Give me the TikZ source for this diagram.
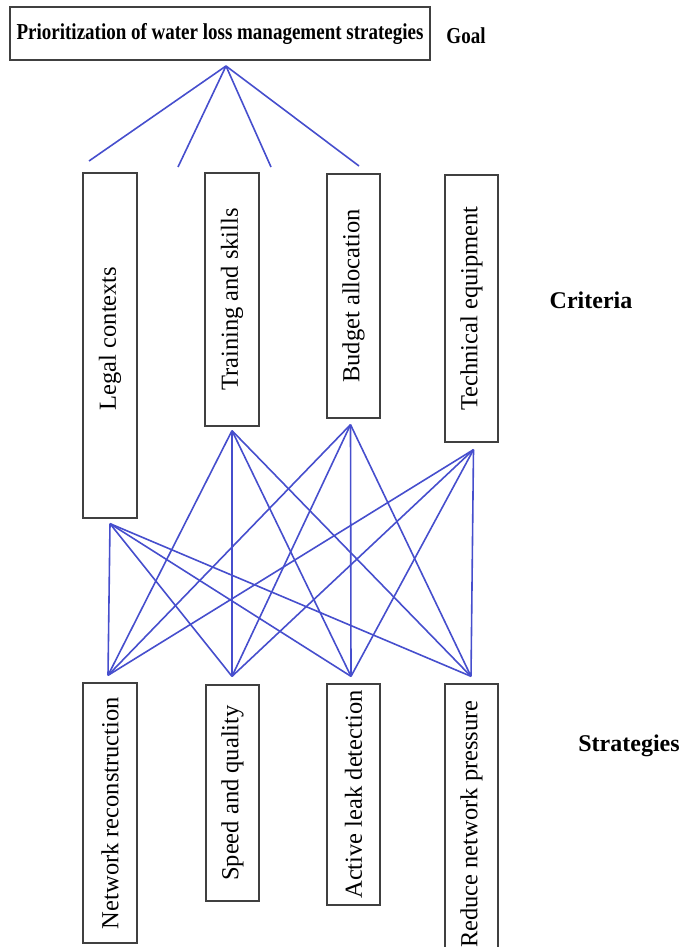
\documentclass[tikz,border=0pt]{standalone}
\usepackage{fontspec}
\setmainfont{Liberation Serif}
\usetikzlibrary{positioning,calc}
\definecolor{linkcolor}{RGB}{70,78,205}

\begin{document}
\begin{tikzpicture} [
			x=1pt,y=-1pt,
			box/.style={draw=black!75,line width=1.3pt,inner sep=0pt,font=\fontsize{24.5}{28}\selectfont},
			level/.style={font=\bfseries\fontsize{24}{28}\selectfont},
			link/.style={draw=linkcolor,line width=1.6pt},
%			scale=0.8,
		]
		\useasboundingbox (0,0) rectangle (681,947);
		
		% goal
		\node[box,minimum width=420,minimum height=53,font=\bfseries\fontsize{19}{23}\selectfont] (goal) at (220,33.5) {\scalebox{1}[1.2]{Prioritization of water loss management strategies}};
		\node[font=\bfseries\fontsize{19}{23}\selectfont] (goallabel) at (466,36) {\scalebox{1}[1.2]{Goal}};
		
		% criteria
		\node[box,minimum width=54,minimum height=345] (legal) at (110,345.5) {\rotatebox{90}{\hspace*{14pt}Legal contexts}};
		\node[box,minimum width=54,minimum height=253] (training) at (232,299.5) {\rotatebox{90}{Training and skills}};
		\node[box,minimum width=53,minimum height=244] (budget) at (353.5,296) {\rotatebox{90}{Budget allocation}};
		\node[box,minimum width=53,minimum height=267] (technical) at (471.5,308.5) {\rotatebox{90}{Technical equipment}};
		\node[level] (criterialabel) at (591,300) {Criteria};
		
		% strategies
		\node[box,minimum width=54,minimum height=260] (network) at (110,813) {\rotatebox{90}{Network reconstruction}};
		\node[box,minimum width=53,minimum height=216] (speed) at (232.5,793) {\rotatebox{90}{Speed and quality}};
		\node[box,minimum width=53,minimum height=221] (active) at (353.5,794.5) {\rotatebox{90}{Active leak detection}};
		\node[box,minimum width=53,minimum height=280] (reduce) at (471.5,824) {\rotatebox{90}{Reduce network pressure}};
		\node[level] (strategieslabel) at (629,746) {Strategies};
		
		\coordinate (apex) at (226,66);
		\coordinate (legal-in) at (89,161);
		\coordinate (training-in) at (178,167);
		\coordinate (budget-in) at (271,167);
		\coordinate (technical-in) at (359,166);
		
		\coordinate (legal-out) at ([yshift=-5pt]legal.south);
		\coordinate (training-out) at ([yshift=-4pt]training.south);
		\coordinate (budget-out) at ([xshift=-3pt,yshift=-6pt]budget.south);
		\coordinate (technical-out) at ([xshift=2pt,yshift=-7pt]technical.south);
		
		\coordinate (network-in) at ([xshift=-2pt,yshift=7pt]network.north);
		\coordinate (speed-in) at ([xshift=-0.5pt,yshift=8pt]speed.north);
		\coordinate (active-in) at ([xshift=-2.5pt,yshift=7pt]active.north);
		\coordinate (reduce-in) at ([xshift=-0.5pt,yshift=7pt]reduce.north);
		
		\foreach \c in {legal,training,budget,technical}
			\draw[link] (apex) -- (\c-in);
		
		\foreach \c in {legal,training,budget,technical}
			\foreach \s in {network,speed,active,reduce}
				\draw[link] (\c-out) -- (\s-in);
		
	\end{tikzpicture}
\end{document}
